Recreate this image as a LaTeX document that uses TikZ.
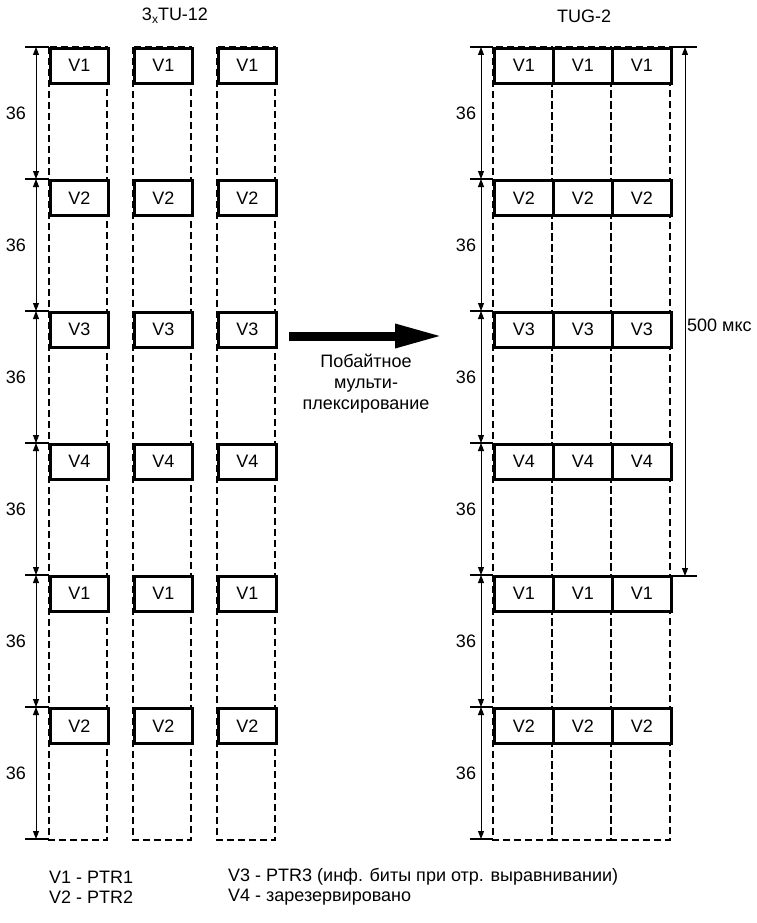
\documentclass[tikz,border=0pt]{standalone}
\usepackage{fontspec}
\setmainfont{Liberation Sans}
\usetikzlibrary{arrows.meta,calc,positioning}

\tikzset{
  slot/.style={draw, fill=white, line width=2.6pt, minimum width=58pt, minimum height=35pt,
    inner sep=0pt, anchor=north west, font=\fontsize{18}{21}\selectfont},
  frame/.style={draw, line width=2pt, dash pattern=on 7pt off 4pt},
  thinframe/.style={draw, line width=1.1pt, dash pattern=on 7pt off 4pt},
  tick/.style={line width=2pt},
  dim/.style={{Triangle[length=8pt,width=6pt]}-{Triangle[length=8pt,width=6pt]}, line width=0.9pt},
  bigarrow/.style={-{Triangle[length=48pt,width=22pt]}, line width=9pt},
  num/.style={font=\fontsize{18}{21}\selectfont, inner sep=0pt},
  title/.style={font=\fontsize{18}{21}\selectfont, inner sep=0pt},
  legend/.style={font=\fontsize{18}{21}\selectfont, inner sep=0pt, anchor=west}
}

\begin{document}
\begin{tikzpicture}[x=1pt,y=-1pt]
  \useasboundingbox (0,0) rectangle (756,923);

  \node[title] (ttu) at (175,16) {3\raisebox{-3pt}{\fontsize{12}{12}\selectfont x}TU-12};
  \node[title] (ttug) at (584,16) {TUG-2};

  % dashed column frames
  \foreach \cx in {49,133,217}
    \draw[frame] (\cx,47) rectangle ++(58,793);
  \foreach \cx in {493,552,611}
    \draw[thinframe] (\cx,47) rectangle ++(59,793);

  % pointer slots
  \foreach \lab [count=\r from 0] in {V1,V2,V3,V4,V1,V2} {
    \foreach \cx [count=\c] in {49,133,217}
      \node[slot] (a\r-\c) at (\cx,{47+132*\r}) {\lab};
    \foreach \cx [count=\c] in {493,552,611}
      \node[slot, minimum width=59pt] (b\r-\c) at (\cx,{47+132*\r}) {\lab};
  }

  % dimension marks
  \foreach \r in {0,...,6} {
    \coordinate (lt\r) at (25,{47+132*\r});
    \coordinate (le\r) at (49,{47+132*\r});
    \coordinate (la\r) at (36,{47+132*\r});
    \coordinate (rt\r) at (470,{47+132*\r});
    \coordinate (re\r) at (493,{47+132*\r});
    \coordinate (ra\r) at (481,{47+132*\r});
    \draw[tick] (lt\r) -- (le\r);
    \draw[tick] (rt\r) -- (re\r);
  }
  \foreach \r [evaluate=\r as \s using int(\r+1)] in {0,...,5} {
    \draw[dim] (la\r) -- (la\s);
    \draw[dim] (ra\r) -- (ra\s);
    \node[num] (ln\r) at (16,{113+132*\r}) {36};
    \node[num] (rn\r) at (466,{113+132*\r}) {36};
  }

  \coordinate (pt0) at (670,47);
  \coordinate (pt1) at (670,576);
  \coordinate (pe0) at (697,47);
  \coordinate (pe1) at (697,576);
  \coordinate (pa0) at (685,47);
  \coordinate (pa1) at (685,576);
  \draw[tick] (pt0) -- (pe0);
  \draw[tick] (pt1) -- (pe1);
  \draw[dim] (pa0) -- (pa1);
  \node[num, anchor=west] (period) at (687,325) {500 мкс};

  % byte multiplexing
  \coordinate (mux-a) at (289,336);
  \coordinate (mux-b) at (443,336);
  \draw[bigarrow] (mux-a) -- (mux-b);
  \node[num, align=center, below=18pt of $(mux-a)!0.5!(mux-b)$, font=\fontsize{18}{21}\selectfont] (muxlabel)
    {Побайтное\\мульти-\\плексирование};

  % legend
  \node[legend] (k1) at (49,877) {V1 - PTR1};
  \node[legend] (k2) at (49,897) {V2 - PTR2};
  \node[legend] (k3) at (228,877) {V3 - PTR3 (инф. биты при отр. выравнивании)};
  \node[legend] (k4) at (228,897) {V4 - зарезервировано};
\end{tikzpicture}
\end{document}
